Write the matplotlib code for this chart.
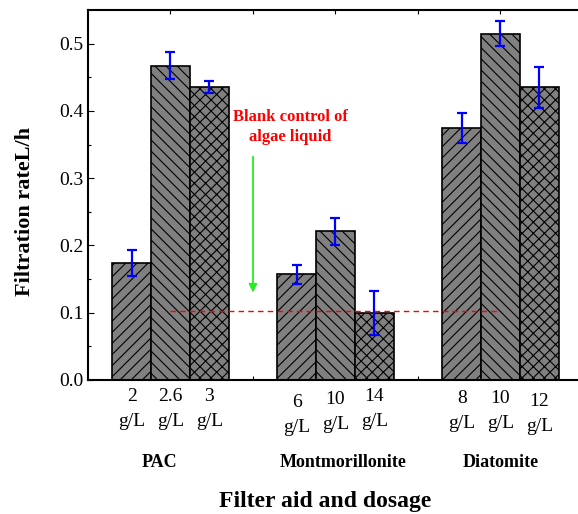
import numpy as np
import matplotlib
matplotlib.use("Agg")
from matplotlib import pyplot as plt

plt.rcParams['font.family'] = ['Liberation Serif', 'DejaVu Serif']
plt.rcParams['hatch.linewidth'] = 0.8

groups = ['PAC', 'Montmorillonite', 'Diatomite']
dosages = [['2', '2.6', '3'], ['6', '10', '14'], ['8', '10', '12']]
rates = [[0.174, 0.467, 0.436],
         [0.157, 0.221, 0.100],
         [0.375, 0.515, 0.435]]
errors = [[0.019, 0.020, 0.009],
          [0.014, 0.020, 0.033],
          [0.022, 0.019, 0.031]]
blank = 0.103

hatches = ['///', '\\\\\\', 'xxx']
# small vertical shifts of the dosage labels, as in the original
label_shift = [[0.0, 0.0, 0.0],
               [-0.010, -0.005, 0.0],
               [-0.004, -0.004, -0.008]]
group_shift = [-0.13, 0.09, 0.0]

fig = plt.figure(figsize=(5.78, 5.14), dpi=100)
ax = fig.add_axes([88 / 578, 1 - 380 / 514, 1 - 88 / 578, 370 / 514])

width = 0.47
centers = [1, 3, 5]
for g in range(3):
    for i in range(3):
        x = centers[g] + (i - 1) * width
        ax.bar(x, rates[g][i], width, color='#808080', edgecolor='black',
               hatch=hatches[i], linewidth=1.2, zorder=2)
        ax.errorbar(x, rates[g][i], yerr=errors[g][i], fmt='none',
                    ecolor='blue', elinewidth=1.6, capsize=3.5,
                    capthick=1.6, zorder=3)
        ax.text(x, -0.024 + label_shift[g][i], dosages[g][i], ha='center',
                va='center', fontsize=14)
        ax.text(x, -0.061 + label_shift[g][i], 'g/L', ha='center',
                va='center', fontsize=14)
    ax.text(centers[g] + group_shift[g], -0.122, groups[g],
            ha='center', va='center', fontsize=13, fontweight='bold')

ax.plot([1, 5], [blank, blank], ls=(0, (4, 3)), color='red', lw=1.0,
        zorder=4)
ax.annotate('', xy=(2.0, 0.126), xytext=(2.0, 0.336),
            arrowprops=dict(arrowstyle='-|>', color='#22ee22', lw=1.3,
                            mutation_scale=12))
ax.text(2.45, 0.376, 'Blank control of\nalgae liquid', color='red',
        fontweight='bold', fontsize=12, ha='center', va='center',
        linespacing=1.3)

ax.set_xlim(0, 5.94)
ax.set_ylim(0, 0.55)
ax.set_xticks([1, 2, 3, 4, 5])
ax.set_xticklabels([])
ax.set_yticks(np.arange(0, 0.51, 0.1))
ax.set_yticks(np.arange(0.05, 0.55, 0.1), minor=True)
ax.tick_params(axis='both', which='both', direction='in', top=True,
               labelsize=14, width=0.8)
ax.tick_params(axis='y', which='major', length=4)
ax.tick_params(axis='y', which='minor', length=2)
ax.tick_params(axis='x', length=3)
ax.spines['right'].set_visible(False)
for s in ['left', 'bottom', 'top']:
    ax.spines[s].set_linewidth(1.5)

fig.text(325 / 578, 1 - 502 / 514, 'Filter aid and dosage', ha='center',
         va='center', fontsize=17, fontweight='bold')
fig.text(25 / 578, 1 - 212 / 514, 'Filtration rateL/h', ha='center',
         va='center', rotation=90, fontsize=16, fontweight='bold')

fig.savefig('out.png', dpi=100)
